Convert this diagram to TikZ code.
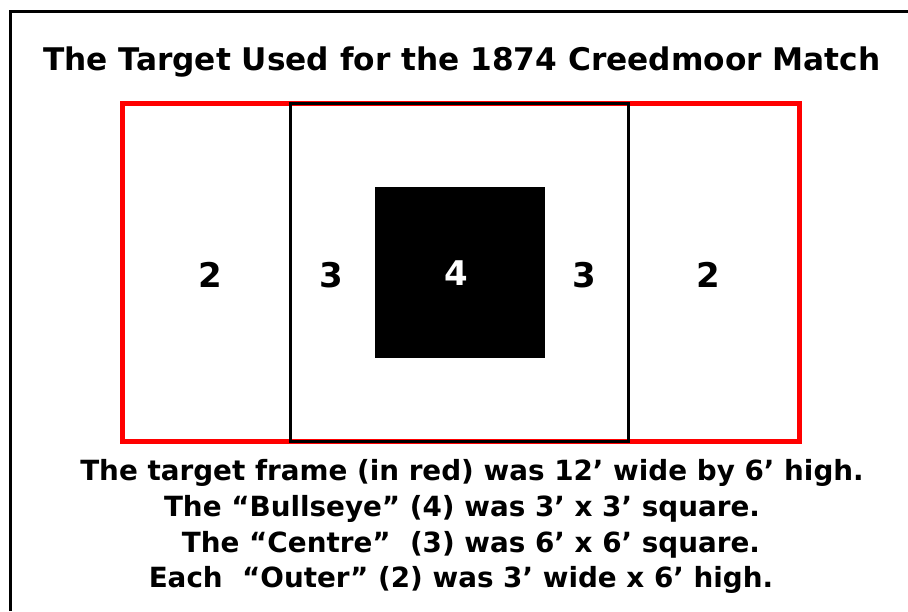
\documentclass[tikz,border=0pt]{standalone}
\usepackage{fontspec}
\setmainfont{DejaVu Sans}
\begin{document}
\begin{tikzpicture}[x=1pt,y=-1pt, line join=miter, font=\bfseries]
			\def\fl{122} \def\fr{799} \def\ft{103} \def\fb{441} % frame
			\def\cl{290} \def\cr{628} % centre square
			\def\bl{375} \def\br{545} \def\bt{187} \def\bb{358} % bullseye
			\useasboundingbox (0,0) rectangle (908,611);
			\draw[line width=3] (10,611)--(10,11)--(908,11);
			\node (title) at (462,62) {\fontsize{31.2}{36}\selectfont The Target Used for the 1874 Creedmoor Match};
			\draw[red, line width=5] (\fl,\ft) rectangle (\fr,\fb);
			\draw[line width=3] (\cl,\ft) rectangle (\cr,\fb);
			\fill (\bl,\bt) rectangle (\br,\bb);
			\tikzset{score/.style={font=\bfseries\fontsize{34}{38}\selectfont}}
			\node[score] (outerL) at (210,275) {2};
			\node[score] (centreL) at (331,275) {3};
			\node[score, white] (bull) at (456,273) {4};
			\node[score] (centreR) at (584,275) {3};
			\node[score] (outerR) at (708,275) {2};
			\tikzset{note/.style={font=\bfseries\fontsize{27.8}{32}\selectfont, inner sep=0pt}}
			\node[note] (lineA) at (472,473) {The target frame (in red) was 12’ wide by 6’ high.};
			\node[note] (lineB) at (462,509) {The “Bullseye” (4) was 3’ x 3’ square.};
			\node[note] (lineC) at (471,545) {The “Centre”\ \ (3) was 6’ x 6’ square.};
			\node[note] (lineD) at (461,580) {Each\ \ “Outer” (2) was 3’ wide x 6’ high.};
	\end{tikzpicture}
\end{document}
